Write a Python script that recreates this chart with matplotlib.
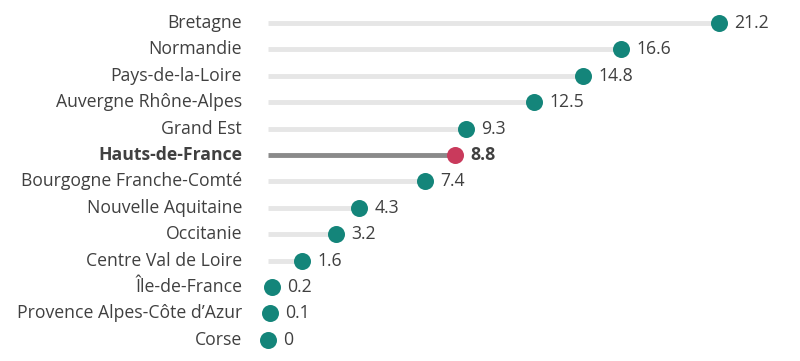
import matplotlib
matplotlib.use("Agg")
import matplotlib.pyplot as plt

regions = [
    "Bretagne", "Normandie", "Pays-de-la-Loire", "Auvergne Rhône-Alpes",
    "Grand Est", "Hauts-de-France", "Bourgogne Franche-Comté",
    "Nouvelle Aquitaine", "Occitanie", "Centre Val de Loire",
    "Île-de-France", "Provence Alpes-Côte d’Azur", "Corse",
]
values = [21.2, 16.6, 14.8, 12.5, 9.3, 8.8, 7.4, 4.3, 3.2, 1.6, 0.2, 0.1, 0]
value_labels = ["21.2", "16.6", "14.8", "12.5", "9.3", "8.8", "7.4",
                "4.3", "3.2", "1.6", "0.2", "0.1", "0"]
highlight = "Hauts-de-France"

plt.rcParams["font.family"] = ["Open Sans", "DejaVu Sans"]
text_col = "#404040"

fig = plt.figure(figsize=(8, 3.61), dpi=100)
ax = fig.add_axes([0, 0, 1, 1])
# pixel mapping: value 0 -> x=268px, 1 unit ~ 21.27px; row 0 at y=23px, step 26.4px
ax.set_xlim(-268 / 21.27, (800 - 268) / 21.27)
ax.set_ylim((361 - 23) / 26.4, -23 / 26.4)
ax.axis("off")

for i, (name, v, lab) in enumerate(zip(regions, values, value_labels)):
    hl = name == highlight
    ax.plot([0, v], [i, i], color="#8a8a8a" if hl else "#e6e6e6",
            lw=3.5, solid_capstyle="butt", zorder=1)
    ax.scatter(v, i, s=150, color="#c93a5c" if hl else "#14857a",
               zorder=3, linewidths=0)
    ax.text(-1.22, i, name, ha="right", va="center", fontsize=12.7,
            color=text_col, fontweight="bold" if hl else "normal")
    ax.text(v + 0.72, i, lab, ha="left", va="center", fontsize=12.7,
            color=text_col, fontweight="bold" if hl else "normal")

fig.savefig("out.png", dpi=100)
